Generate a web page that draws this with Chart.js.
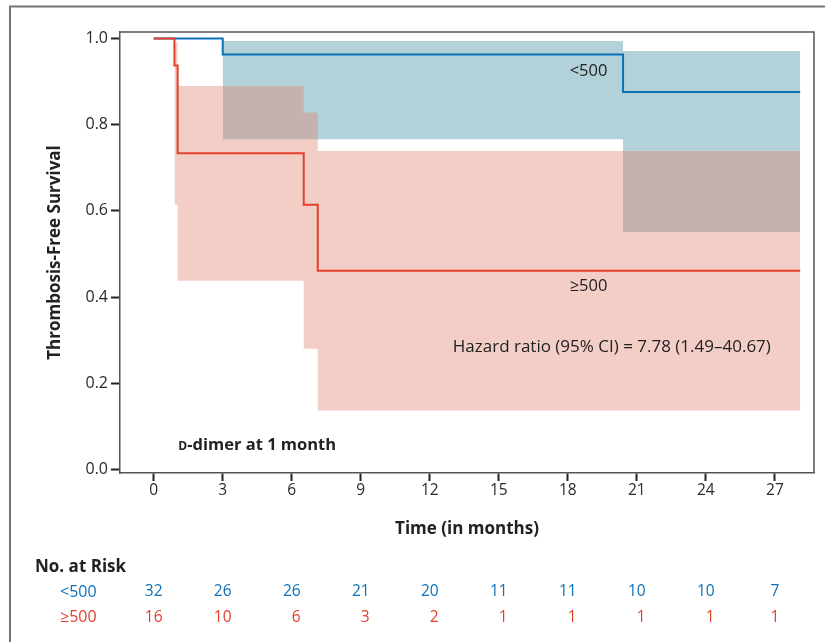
<!DOCTYPE html>
<html>
<head>
<meta charset="utf-8">
<script src="https://cdn.jsdelivr.net/npm/chart.js@4.4.0/dist/chart.umd.min.js"></script>
<style>
  body { margin: 0; background: #fff; }
  #wrap { position: relative; width: 825px; height: 642px; }
</style>
</head>
<body>
<div id="wrap"><canvas id="kmChart"></canvas></div>
<script>
// Kaplan-Meier estimates (time in months)
const lowTimes = [0, 3.0, 20.4, 28.1];
const lowSurvival = [1.0, 0.963, 0.876, 0.876];
const highTimes = [0, 0.9, 1.04, 6.52, 7.13, 28.1];
const highSurvival = [1.0, 0.9375, 0.734, 0.614, 0.461, 0.461];

// 95% confidence bands
const lowBandTimes = [3.0, 20.4, 28.1];
const lowBandUpper = [0.994, 0.971, 0.971];
const lowBandLower = [0.766, 0.551, 0.551];
const highBandTimes = [0.9, 1.04, 6.52, 7.13, 28.1];
const highBandUpper = [0.991, 0.890, 0.828, 0.739, 0.739];
const highBandLower = [0.614, 0.438, 0.280, 0.137, 0.137];

// Axis ticks
const xTicks = [0, 3, 6, 9, 12, 15, 18, 21, 24, 27];
const yTicks = [0, 0.2, 0.4, 0.6, 0.8, 1.0];

// Number at risk at each x tick
const groupLabels = ['<500', '\u2265500'];
const riskLow = [32, 26, 26, 21, 20, 11, 11, 10, 10, 7];
const riskHigh = [16, 10, 6, 3, 2, 1, 1, 1, 1, 1];

const BLUE = '#0b71b8';
const RED = '#e4402a';
const FONT = "'Open Sans', sans-serif";

const toPoints = (xs, ys) => xs.map((x, i) => ({ x: x, y: ys[i] }));

Chart.defaults.font.family = FONT;

// frame, plot box, annotations and the at-risk table
const decorations = {
    id: 'decorations',
    beforeDraw(chart) {
        const ctx = chart.ctx;
        ctx.save();
        ctx.strokeStyle = '#747474';
        ctx.lineWidth = 2;
        ctx.strokeRect(10, 6.5, 900, 900);
        ctx.restore();
    },
    afterDatasetsDraw(chart) {
        const { ctx, chartArea: a } = chart;
        ctx.save();
        ctx.strokeStyle = '#555';
        ctx.lineWidth = 1.5;
        ctx.beginPath();
        ctx.moveTo(a.left, a.top);
        ctx.lineTo(a.right, a.top);
        ctx.lineTo(a.right, a.bottom);
        ctx.stroke();
        ctx.restore();
    },
    afterDraw(chart) {
        const ctx = chart.ctx;
        const x = chart.scales.x;
        const y = chart.scales.y;
        ctx.save();
        ctx.textBaseline = 'middle';
        ctx.fillStyle = '#222';

        ctx.font = '16.5px ' + FONT;
        ctx.textAlign = 'center';
        ctx.fillText(groupLabels[0], x.getPixelForValue(18.9), y.getPixelForValue(0.924));
        ctx.fillText(groupLabels[1], x.getPixelForValue(18.9), y.getPixelForValue(0.424));
        ctx.font = '17px ' + FONT;
        ctx.textAlign = 'left';
        ctx.fillText('Hazard ratio (95% CI) = 7.78 (1.49\u201340.67)', x.getPixelForValue(13.0), y.getPixelForValue(0.284));

        // small-cap D
        let dx = x.getPixelForValue(1.07);
        const dy = y.getPixelForValue(0.0554);
        ctx.font = 'bold 12px ' + FONT;
        ctx.fillText('D', dx, dy + 1);
        dx += ctx.measureText('D').width;
        ctx.font = 'bold 16.5px ' + FONT;
        ctx.fillText('-dimer at 1 month', dx, dy);

        // No. at Risk
        ctx.font = 'bold 17px ' + FONT;
        ctx.fillText('No. at Risk', 35, 567);
        ctx.font = '16px ' + FONT;
        const rows = [[riskLow, BLUE, 592], [riskHigh, RED, 617.5]];
        rows.forEach(([vals, color, rowY], r) => {
            ctx.fillStyle = color;
            ctx.textAlign = 'left';
            ctx.fillText(groupLabels[r], 60, rowY);
        });
        ctx.font = '15.5px ' + FONT;
        ctx.textAlign = 'right';
        xTicks.forEach((t, i) => {
            const w = Math.max(ctx.measureText(String(riskLow[i])).width, ctx.measureText(String(riskHigh[i])).width);
            const right = x.getPixelForValue(t) + w / 2;
            rows.forEach(([vals, color, rowY]) => {
                ctx.fillStyle = color;
                ctx.fillText(String(vals[i]), right, rowY);
            });
        });
        ctx.restore();
    }
};

const ctx = document.getElementById('kmChart').getContext('2d');
new Chart(ctx, {
    type: 'line',
    data: {
        datasets: [
            { label: '\u2265500', data: toPoints(highTimes, highSurvival), borderColor: RED, borderWidth: 2, fill: false },
            { label: '<500', data: toPoints(lowTimes, lowSurvival), borderColor: BLUE, borderWidth: 2, fill: false },
            { label: 'hi upper', data: toPoints(highBandTimes, highBandUpper), borderWidth: 0, borderColor: 'transparent', fill: false },
            { label: 'hi lower', data: toPoints(highBandTimes, highBandLower), borderWidth: 0, borderColor: 'transparent',
              backgroundColor: 'rgba(225, 132, 112, 0.4)', fill: '-1' },
            { label: 'lo upper', data: toPoints(lowBandTimes, lowBandUpper), borderWidth: 0, borderColor: 'transparent', fill: false },
            { label: 'lo lower', data: toPoints(lowBandTimes, lowBandLower), borderWidth: 0, borderColor: 'transparent',
              backgroundColor: '#b3d1d9', fill: '-1' }
        ]
    },
    options: {
        responsive: true,
        maintainAspectRatio: false,
        animation: false,
        layout: { padding: { left: 0, top: 32, right: 11, bottom: 99 } },
        elements: { point: { radius: 0 }, line: { stepped: true } },
        plugins: {
            legend: { display: false },
            tooltip: { enabled: false }
        },
        scales: {
            x: {
                type: 'linear',
                min: -1.465,
                max: 28.7,
                afterBuildTicks: s => { s.ticks = xTicks.map(v => ({ value: v })); },
                afterFit: s => { s.height = 70; },
                grid: { drawOnChartArea: false, tickLength: 8, tickWidth: 2, tickColor: '#222' },
                border: { color: '#555', width: 1.5 },
                ticks: { padding: 0.5, color: '#2a2a2a', font: { size: 15.5 }, callback: v => v },
                title: { display: true, text: 'Time (in months)', color: '#222',
                         font: { size: 17, weight: 'bold' }, padding: { top: 0, bottom: 3.5 } }
            },
            y: {
                min: -0.008,
                max: 1.015,
                afterBuildTicks: s => { s.ticks = yTicks.map(v => ({ value: v })); },
                afterFit: s => { s.width = 120; },
                grid: { drawOnChartArea: false, tickLength: 9, tickWidth: 2, tickColor: '#222' },
                border: { color: '#555', width: 1.5 },
                ticks: { padding: 3, color: '#2a2a2a', font: { size: 16 }, callback: v => v.toFixed(1) },
                title: { display: true, text: 'Thrombosis-Free Survival', color: '#222',
                         font: { size: 17, weight: 'bold' }, padding: { top: 45, bottom: 0 } }
            }
        }
    },
    plugins: [decorations]
});
</script>
</body>
</html>
